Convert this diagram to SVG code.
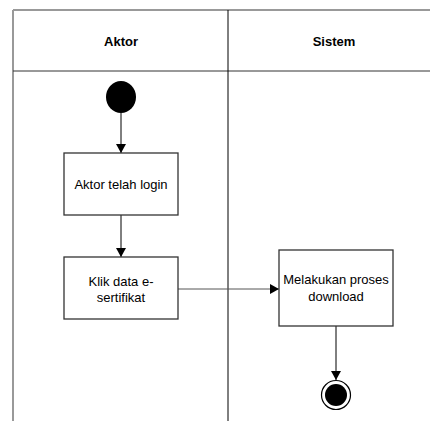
<svg xmlns="http://www.w3.org/2000/svg" width="430" height="421" viewBox="0 0 430 421">
<style>
.lane{fill:none;stroke:#000;stroke-width:1}
.box{fill:#fff;stroke:#333;stroke-width:1.3}
.t{font-family:"Liberation Sans",Arial,sans-serif;font-size:13px;fill:#000;text-anchor:middle}
.h{font-family:"Liberation Sans",Arial,sans-serif;font-size:13px;font-weight:bold;fill:#000;text-anchor:middle}
.c{fill:none;stroke:#000;stroke-width:1}
</style>
<defs>
<marker id="arr" markerWidth="10" markerHeight="10" refX="9" refY="5" orient="auto" markerUnits="userSpaceOnUse">
<path d="M0,0 L9,5 L0,10 Z" fill="#000"/>
</marker>
</defs>
<rect width="430" height="421" fill="#fff"/>
<g id="lanes">
<line x1="13" y1="10" x2="430" y2="10" stroke="#777" stroke-width="1.3"/>
<line x1="13" y1="10" x2="13" y2="421" stroke="#999" stroke-width="2"/>
<line x1="13" y1="71" x2="430" y2="71" stroke="#333" stroke-width="1"/>
<line x1="228" y1="10" x2="228" y2="421" stroke="#000" stroke-width="1"/>
<text class="h" x="121" y="46">Aktor</text>
<text class="h" x="334" y="46">Sistem</text>
</g>
<g id="connectors">
<line class="c" x1="121" y1="113" x2="121" y2="153" marker-end="url(#arr)"/>
<line class="c" x1="121" y1="215" x2="121" y2="257" marker-end="url(#arr)"/>
<line x1="178" y1="289" x2="279" y2="289" stroke="#555" stroke-width="1" marker-end="url(#arr)"/>
<line class="c" x1="336" y1="326" x2="336" y2="380" marker-end="url(#arr)"/>
</g>
<g id="start">
<ellipse cx="121" cy="97" rx="15" ry="16" fill="#000"/>
</g>
<g id="login">
<rect class="box" x="64" y="153" width="114" height="62"/>
<text class="t" x="121" y="189">Aktor telah login</text>
</g>
<g id="klik">
<rect class="box" x="64" y="257" width="114" height="62"/>
<text class="t" x="121" y="286">Klik data e-</text>
<text class="t" x="121" y="302">sertifikat</text>
</g>
<g id="proses">
<rect class="box" x="279" y="250" width="114" height="76"/>
<text class="t" x="336" y="284">Melakukan proses</text>
<text class="t" x="336" y="301">download</text>
</g>
<g id="end">
<circle cx="336" cy="395" r="14.5" fill="#fff" stroke="#000" stroke-width="1.2"/>
<circle cx="336" cy="395" r="11" fill="#000"/>
</g>
</svg>
